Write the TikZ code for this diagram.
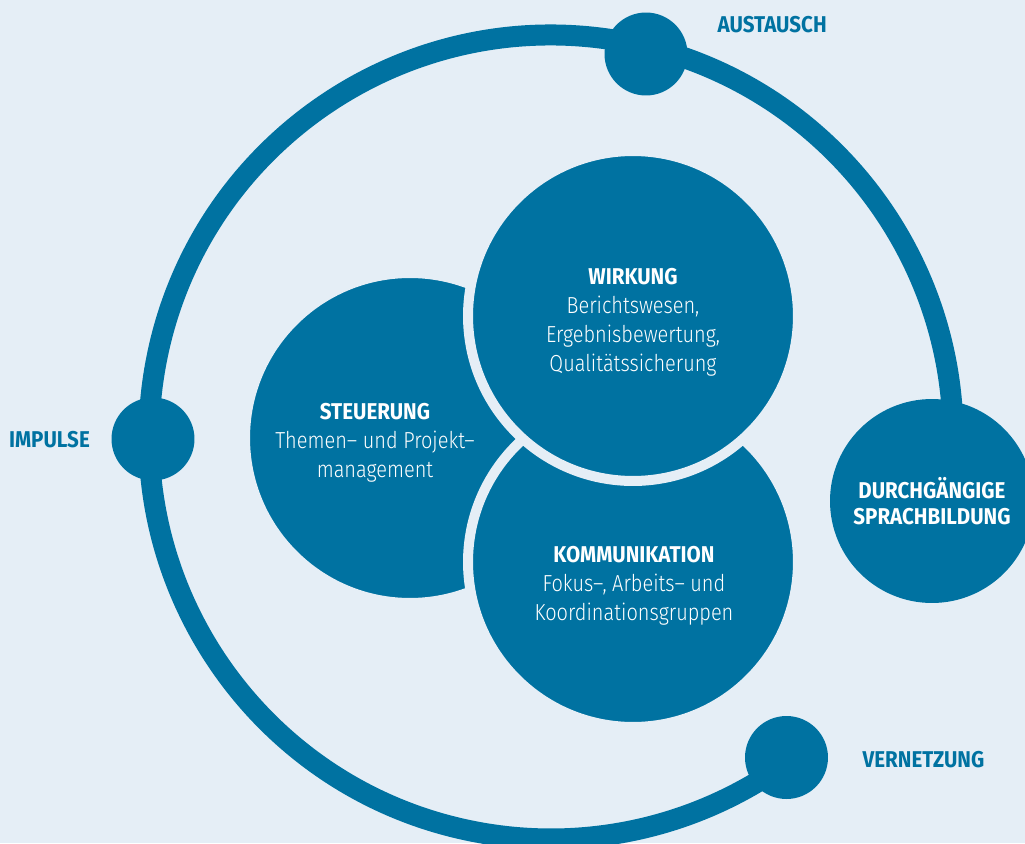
\documentclass[tikz,border=0pt]{standalone}
\usepackage{fontspec}
\setmainfont{Fira Sans}[FakeStretch=0.9]
\newfontfamily\lightfont{Fira Sans Light}[FakeStretch=0.86]
\usetikzlibrary{positioning,calc}

\definecolor{petrol}{HTML}{0072A1}
\definecolor{paleblue}{HTML}{E5EEF6}

\newcommand\discheading[1]{{\normalfont\bfseries\fontsize{13}{16.5}\selectfont #1}}

\tikzset{
  ring/.style={draw=petrol, line width=0.42cm},
  station/.style={circle, fill=petrol, minimum size=1.66cm, inner sep=0pt},
  disc/.style={circle, fill=petrol, draw=paleblue, line width=0.2cm, minimum size=6.6cm, inner sep=0pt},
  caption/.style={align=center, text=white, inner sep=0pt, font=\lightfont\fontsize{13.2}{16.5}\selectfont},
  tag/.style={text=petrol, inner sep=0pt, font=\bfseries\fontsize{13}{15}\selectfont},
}

\begin{document}
\begin{tikzpicture}[x=0.02cm, y=0.02cm]

\useasboundingbox (-551,-406) rectangle (474,437);
\fill[paleblue] (-551,-406) rectangle (474,437);

\coordinate (hub) at (0,0);

% outer ring, open between Vernetzung and Sprachbildung
\draw[ring] ($(hub)+(-9.5:402)$) arc[start angle=-9.5, end angle=306.3, radius=402];

% stations on the ring
\node[station] (austausch) at (95,383) {};
\node[station] (impulse) at (-398,-2) {};
\node[station] (vernetzung) at (235.5,-320.5) {};
\node[station, minimum size=4.08cm, text=white, align=center,
  font=\bfseries\fontsize{13}{14.7}\selectfont] (sprachbildung) at (381,-64)
  {DURCHGÄNGIGE\\SPRACHBILDUNG};

\node[tag, anchor=west] (austausch-tag) at ($(austausch.east)+(29.5,29)$) {AUSTAUSCH};
\node[tag, anchor=east] (impulse-tag) at ($(impulse.west)+(-21,-1)$) {IMPULSE};
\node[tag, anchor=west] (vernetzung-tag) at ($(vernetzung.east)+(34,-2.5)$) {VERNETZUNG};

% the three discs, each one cut out of the one below
\node[disc] (steuerung) at (-141,-1) {};
\node[disc] (kommunikation) at (82,-125) {};
\node[disc] (wirkung) at (82,121) {};

\node[caption] (steuerung-text) at ($(steuerung)+(-35,-5)$)
  {\discheading{STEUERUNG}\\Themen– und Projekt–\\management};
\node[caption] (wirkung-text) at ($(wirkung)+(0,-6)$)
  {\discheading{WIRKUNG}\\Berichtswesen,\\Ergebnisbewertung,\\Qualitätssicherung};
\node[caption] (kommunikation-text) at ($(kommunikation)+(1,-24)$)
  {\discheading{KOMMUNIKATION}\\Fokus–, Arbeits– und\\Koordinationsgruppen};

\end{tikzpicture}
\end{document}
